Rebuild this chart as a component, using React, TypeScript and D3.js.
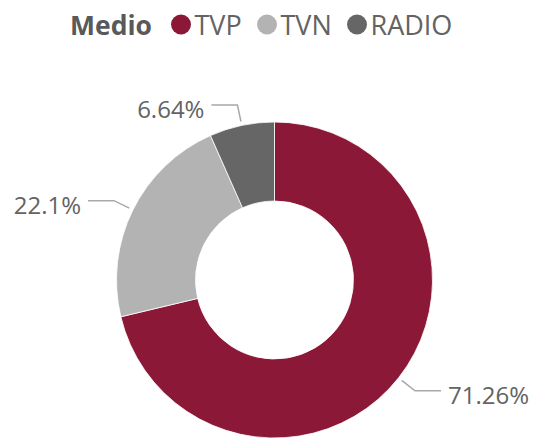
import React from "react";
import * as d3 from "d3";

const categories = ["TVP", "TVN", "RADIO"];
const values = [71.26, 22.1, 6.64];
const labels = ["71.26%", "22.1%", "6.64%"];
const colors = ["#8C1837", "#B3B3B3", "#666666"];
const legendTitle = "Medio";

const W = 538;
const H = 442;
const cx = 274.5;
const cy = 280;
const outerR = 158;
const innerR = 79;
const font = "'Open Sans', 'Noto Sans', sans-serif";
const textColor = "#636363";

export default function App() {
  const pie = d3.pie<number>().sort(null).value((d) => d)(values);
  const arc = d3.arc<d3.PieArcDatum<number>>().innerRadius(innerR).outerRadius(outerR);
  const legendX = [181, 267, 357];
  return (
    <svg width={W} height={H} style={{ position: "absolute", left: 0, top: 0 }}>
      <text x={70} y={35} fontFamily={font} fontWeight="bold" fontSize={26.5} fill="#595959">
        {legendTitle}
      </text>
      {categories.map((c, i) => (
        <g key={c}>
          <circle cx={legendX[i]} cy={24.5} r={10} fill={colors[i]} />
          <text x={legendX[i] + 13.5} y={35} fontFamily={font} fontSize={27} fill={textColor}>
            {c}
          </text>
        </g>
      ))}
      <g transform={`translate(${cx},${cy})`}>
        {pie.map((p, i) => (
          <path key={i} d={arc(p) || ""} fill={colors[i]} stroke="#fff" strokeWidth={0.8} />
        ))}
        {pie.map((p, i) => {
          const a = (p.startAngle + p.endAngle) / 2;
          const sx = Math.sin(a), sy = -Math.cos(a);
          const p1 = [162 * sx, 162 * sy];
          const p2 = [179 * sx, 179 * sy];
          const right = sx > 0;
          const p3 = [p2[0] + (right ? 26 : -26), p2[1]];
          return (
            <g key={"l" + i}>
              <polyline
                points={[p1, p2, p3].map((q) => q.join(",")).join(" ")}
                fill="none"
                stroke="#A8A8A8"
                strokeWidth={1.5}
              />
              <text
                x={p3[0] + (right ? 7 : -7)}
                y={p3[1] + 13.5}
                textAnchor={right ? "start" : "end"}
                fontFamily={font}
                fontSize={24}
                fill={textColor}
              >
                {labels[i]}
              </text>
            </g>
          );
        })}
      </g>
    </svg>
  );
}
